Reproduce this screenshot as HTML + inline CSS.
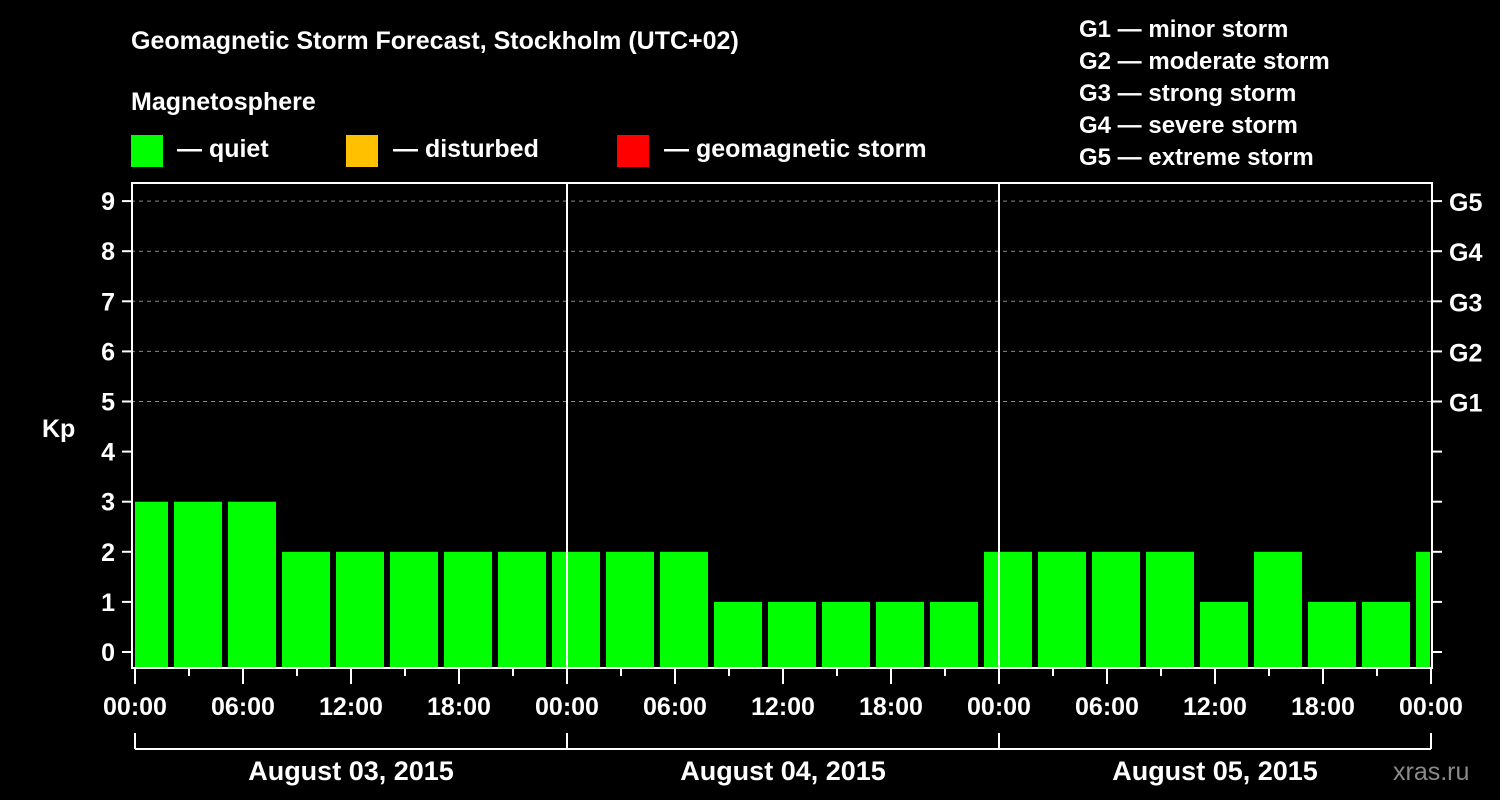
<!DOCTYPE html>
<html><head><meta charset="utf-8"><style>
body{margin:0;background:#000;width:1500px;height:800px;overflow:hidden}
svg{display:block;font-family:"Liberation Sans",Arial,sans-serif;font-weight:bold;fill:#fff}
</style></head><body>
<svg id="chart" width="1500" height="800" viewBox="0 0 1500 800">
<rect width="1500" height="800" fill="#000"/>
<text x="131" y="49" font-size="25">Geomagnetic Storm Forecast, Stockholm (UTC+02)</text>
<text x="131" y="110" font-size="25">Magnetosphere</text>
<rect x="131" y="135" width="32" height="32" fill="#00ff00"/>
<text x="177" y="157" font-size="25">— quiet</text>
<rect x="346" y="135" width="32" height="32" fill="#ffc000"/>
<text x="393" y="157" font-size="25">— disturbed</text>
<rect x="617" y="135" width="32" height="32" fill="#ff0000"/>
<text x="664" y="157" font-size="25">— geomagnetic storm</text>
<g font-size="24">
<text x="1079" y="37">G1 — minor storm</text>
<text x="1079" y="69">G2 — moderate storm</text>
<text x="1079" y="101">G3 — strong storm</text>
<text x="1079" y="133">G4 — severe storm</text>
<text x="1079" y="165">G5 — extreme storm</text>
</g>
<text x="42" y="437" font-size="25">Kp</text>
<text x="1393" y="780" font-size="25" fill="#888" style="fill:#8a8a8a;font-weight:normal">xras.ru</text>
<defs><clipPath id="pc"><rect x="135" y="183" width="1295" height="485"/></clipPath></defs>
<g id="grid"></g>
<g id="bars" clip-path="url(#pc)"></g>
<g id="axes"></g>
</svg>
<script>
const kpValues=[3,3,3,2,2,2,2,2,2,2,2,1,1,1,1,1,2,2,2,2,1,2,1,1,2];
const barStartHour=0.5;
const barStepHours=3;
const yTicks=[0,1,2,3,4,5,6,7,8,9];
const gLabels=["G1","G2","G3","G4","G5"];
const gLevels=[5,6,7,8,9];
const dayLabels=["August 03, 2015","August 04, 2015","August 05, 2015"];
const hourLabels=["00:00","06:00","12:00","18:00"];

const NS="http://www.w3.org/2000/svg";
const X0=135,PXH=18,Y0=652,PXK=50.1;
const x=h=>X0+h*PXH;
const y=k=>Y0-k*PXK;
function mk(t,a,p){const e=document.createElementNS(NS,t);for(const k in a)e.setAttribute(k,a[k]);p.appendChild(e);return e;}
const grid=document.getElementById('grid'),bars=document.getElementById('bars'),axes=document.getElementById('axes');

gLevels.forEach((k,i)=>{
 const l=mk('line',{x1:131,x2:1433,y1:y(k),y2:y(k),stroke:'#888','stroke-dasharray':'4,4','stroke-width':1},grid);
 
 
});
kpValues.forEach((v,i)=>{
 const c=barStartHour+i*barStepHours;
 const r=mk('rect',{x:x(c)-24,y:y(v),width:48,height:668-y(v),fill:'#00ff00'},bars);
 
 
});
// frame
const f=mk('rect',{x:132,y:183,width:1300,height:485,fill:'none',stroke:'#fff','stroke-width':2},axes);


// day separators
for(let d=1;d<3;d++){
 const l=mk('line',{x1:x(24*d),x2:x(24*d),y1:183,y2:668,stroke:'#fff','stroke-width':2},axes);
 
 
}
yTicks.forEach(k=>{
 mk('line',{x1:122,x2:131,y1:y(k),y2:y(k),stroke:'#fff','stroke-width':2},axes);
 const t=mk('text',{x:115,y:y(k)+9,'font-size':25,'text-anchor':'end'},axes);
 t.textContent=k;
 
 
 mk('line',{x1:1433,x2:1442,y1:y(k),y2:y(k),stroke:'#fff','stroke-width':2},axes);
});
gLevels.forEach((k,i)=>{
 const t=mk('text',{x:1449,y:y(k)+10,'font-size':25},axes);
 t.textContent=gLabels[i];
 
 
});
for(let h=0;h<=72;h+=3){
 const major=h%6===0;
 mk('line',{x1:x(h),x2:x(h),y1:668,y2:major?684:676,stroke:'#fff','stroke-width':2},axes);
}
for(let h=0;h<=72;h+=6){
 const t=mk('text',{x:x(h),y:715,'font-size':25,'text-anchor':'middle'},axes);
 t.textContent=hourLabels[(h/6)%4];
 
 
}
mk('line',{x1:x(0),x2:x(72),y1:749,y2:749,stroke:'#fff','stroke-width':2},axes);
for(let d=0;d<=3;d++) mk('line',{x1:x(24*d),x2:x(24*d),y1:733,y2:749,stroke:'#fff','stroke-width':2},axes);
dayLabels.forEach((s,i)=>{
 const t=mk('text',{x:x(24*i+12),y:780,'font-size':27,'text-anchor':'middle'},axes);
 t.textContent=s;
 
 
});
</script>
</body></html>
